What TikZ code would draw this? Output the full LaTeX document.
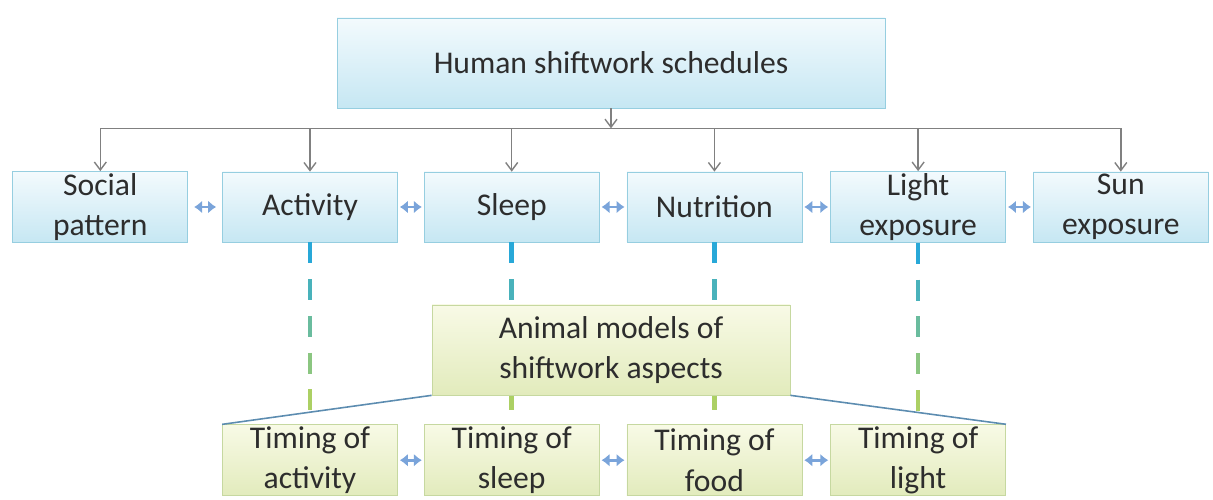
\documentclass[tikz,border=0pt]{standalone}
\usepackage{fontspec}
\setmainfont{Carlito}
\usepackage{tikz}
\usepackage{xcolor}
\usetikzlibrary{arrows.meta, positioning, calc}
\definecolor{cText}{RGB}{45,45,45}
\definecolor{cBlueTop}{RGB}{243,250,253}
\definecolor{cBlueBot}{RGB}{198,231,243}
\definecolor{cBlueEdge}{RGB}{150,206,224}
\definecolor{cGreenTop}{RGB}{248,250,230}
\definecolor{cGreenBot}{RGB}{226,235,188}
\definecolor{cGreenEdge}{RGB}{198,216,160}
\definecolor{cLink}{RGB}{128,128,128}
\definecolor{cPair}{RGB}{122,164,218}
\definecolor{cDashTop}{RGB}{40,168,216}
\definecolor{cDashBot}{RGB}{172,208,100}
\definecolor{cSlant}{RGB}{92,140,176}
\tikzset{
	human/.style ={rectangle, draw=cBlueEdge, top color=cBlueTop, bottom color=cBlueBot, minimum width=3.5cm, minimum height=1.4cm, align=center, text=cText, inner sep=1pt},
	animal/.style={rectangle, draw=cGreenEdge, top color=cGreenTop, bottom color=cGreenBot, minimum width=3.5cm, minimum height=1.42cm, align=center, text=cText, inner sep=1pt},
	link/.style  ={-{Straight Barb[length=1.6mm, width=2.4mm]}, cLink, line width=0.8pt},
	pair/.style  ={{Latex[length=1.6mm, width=2.6mm]}-{Latex[length=1.6mm, width=2.6mm]}, cPair, line width=1.6pt, shorten >=0.04cm, shorten <=0.04cm},
	slant/.style ={cSlant, line width=0.9pt},
}
\begin{document}
\begin{tikzpicture}[font=\fontsize{18}{23}\selectfont]
	\useasboundingbox (0,0) rectangle (24.26,10);
	% human side
	\node[human, minimum width=10.96cm, minimum height=1.8cm] (shift) at (12.22,8.74) {Human shiftwork schedules};
	\node[human] (act) at (6.2,5.86) {Activity};
	\node[human, left=0.68cm of act] (social) {Social\\pattern};
	\node[human, right=0.52cm of act] (sleep) {Sleep};
	\node[human, right=0.54cm of sleep] (nutr) {Nutrition};
	\node[human, right=0.56cm of nutr] (light) {Light\\exposure};
	\node[human, right=0.54cm of light] (sun) {Sun\\exposure};
	\coordinate (bar) at ($(shift.south)+(0,-0.4)$);
	\draw[link] (shift.south) -- (bar);
	\draw[cLink, line width=0.8pt] (social |- bar) -- (sun |- bar);
	\foreach \n in {social,act,sleep,nutr,light,sun} {
		\draw[link] (\n |- bar) -- (\n.north);
	}
	\draw[pair, shorten >=0.12cm, shorten <=0.12cm] (social) -- (act);
	\draw[pair] (act) -- (sleep);
	\draw[pair] (sleep) -- (nutr);
	\draw[pair] (nutr) -- (light);
	\draw[pair] (light) -- (sun);
	% animal side
	\node[animal, below=3.64cm of act] (tact) {Timing of\\activity};
	\node[animal, right=0.52cm of tact] (tsleep) {Timing of\\sleep};
	\node[animal, right=0.54cm of tsleep] (tfood) {Timing of\\food};
	\node[animal, right=0.56cm of tfood] (tlight) {Timing of\\light};
	\foreach \n in {act,sleep,nutr,light} {
		\foreach \k in {0,...,4} {
			\pgfmathtruncatemacro\mix{100-25*\k}
			\draw[cDashTop!\mix!cDashBot, line width=0.09cm] ($(\n.south)+(0,-0.735*\k)$) -- ++(0,-0.42);
		}
	}
	\node[animal, minimum width=7.16cm, minimum height=1.8cm] (models) at (12.22,3.0) {Animal models of\\shiftwork aspects};
	\draw[slant] (models.south west) -- (tact.north west);
	\draw[slant] (models.south east) -- (tlight.north east);
	\draw[pair] (tact) -- (tsleep);
	\draw[pair] (tsleep) -- (tfood);
	\draw[pair] (tfood) -- (tlight);
\end{tikzpicture}
\end{document}
